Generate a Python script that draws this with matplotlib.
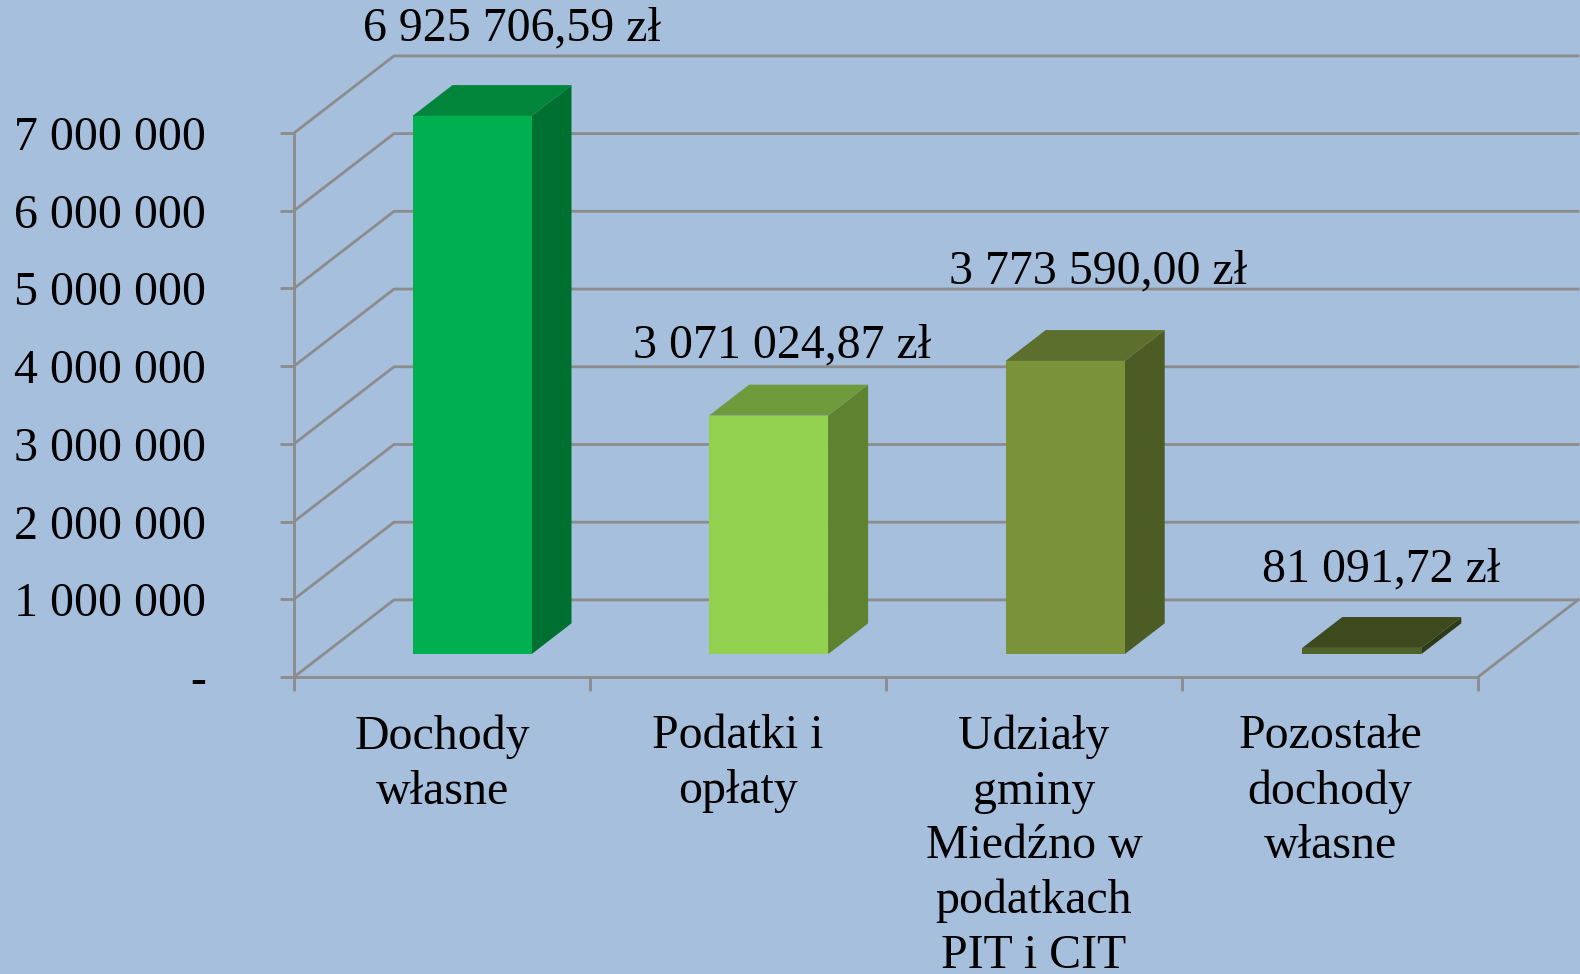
import matplotlib
matplotlib.use('Agg')
import matplotlib.pyplot as plt
import numpy as np

categories = ["Dochody\nwłasne", "Podatki i\nopłaty", "Udziały\ngminy\nMiedźno w\npodatkach\nPIT i CIT", "Pozostałe\ndochody\nwłasne"]
values = [6925706.59, 3071024.87, 3773590.00, 81091.72]
value_labels = ["6 925 706,59 zł", "3 071 024,87 zł", "3 773 590,00 zł", "81 091,72 zł"]
y_ticks = [0, 1000000, 2000000, 3000000, 4000000, 5000000, 6000000, 7000000]
y_tick_labels = ["-", "1 000 000", "2 000 000", "3 000 000", "4 000 000", "5 000 000", "6 000 000", "7 000 000"]

front_colors = ['#00B050', '#92D050', '#7A933A', '#4F6228']
top_colors = ['#00853A', '#6F9B3C', '#5C6F2C', '#3C4A1E']
side_colors = ['#007030', '#5F8230', '#4B5C25', '#2F3B18']
label_offsets = [(40, 87), (13, 70), (33, 89), (19, 78)]

BG = '#A6BFDD'
GRID = '#8C8C8C'
DEPTH_X = 100 / 296
DEPTH_Y = 992000
BAR_DEPTH = 0.4
BAR_START_X = 0.305
BAR_START_Y = 0.296
BAR_STEP = 1.002
BAR_WIDTH = 119 / 296

plt.rcParams['font.family'] = ['Liberation Serif', 'DejaVu Serif']
plt.rcParams['font.size'] = 34.5

fig = plt.figure(figsize=(15.8, 9.74), dpi=100, facecolor=BG)
ax = fig.add_axes([294 / 1580, (974 - 677) / 974, 1184 / 1580, 544 / 974])
ax.patch.set_visible(False)
ax.set_xlim(0, 4)
ax.set_ylim(0, 7000000)

for s in ['top', 'right']:
    ax.spines[s].set_visible(False)
for s in ['left', 'bottom']:
    ax.spines[s].set_color(GRID)
    ax.spines[s].set_linewidth(2)

ax.set_yticks(y_ticks)
ax.set_yticklabels(y_tick_labels)
ax.set_xticks(np.arange(5))
ax.set_xticklabels([])
ax.set_xticks(np.arange(4) + 0.5, minor=True)
ax.set_xticklabels(categories, minor=True, linespacing=1.31)
ax.tick_params(axis='y', length=10, width=2, color=GRID, pad=53.5)
ax.tick_params(axis='x', which='major', length=10, width=2, color=GRID)
ax.tick_params(axis='x', which='minor', length=0, pad=27)

# side wall + back wall lines
for t in y_ticks:
    ax.plot([0, DEPTH_X, 4 + DEPTH_X], [t, t + DEPTH_Y, t + DEPTH_Y], color=GRID, lw=2, clip_on=False, zorder=1)
ax.plot([4, 4 + DEPTH_X], [0, DEPTH_Y], color=GRID, lw=2, clip_on=False, zorder=1)

for i, v in enumerate(values):
    x0 = i * BAR_STEP + 88 / 296 + BAR_START_X * DEPTH_X
    x1 = x0 + BAR_WIDTH
    y0 = BAR_START_Y * DEPTH_Y
    y1 = y0 + v
    dx = BAR_DEPTH * DEPTH_X
    dy = BAR_DEPTH * DEPTH_Y
    ax.fill([x1, x1 + dx, x1 + dx, x1], [y0, y0 + dy, y1 + dy, y1], color=side_colors[i], lw=0, clip_on=False, zorder=3)
    ax.fill([x0, x0 + dx, x1 + dx, x1], [y1, y1 + dy, y1 + dy, y1], color=top_colors[i], lw=0, clip_on=False, zorder=3)
    ax.fill([x0, x1, x1, x0], [y0, y0, y1, y1], color=front_colors[i], lw=0, clip_on=False, zorder=4)
    ax.annotate(value_labels[i], xy=((x0 + x1) / 2, y1), xytext=label_offsets[i], textcoords='offset pixels',
                ha='center', va='center', annotation_clip=False, zorder=5)

fig.savefig('out.png', dpi=100, facecolor=BG)
